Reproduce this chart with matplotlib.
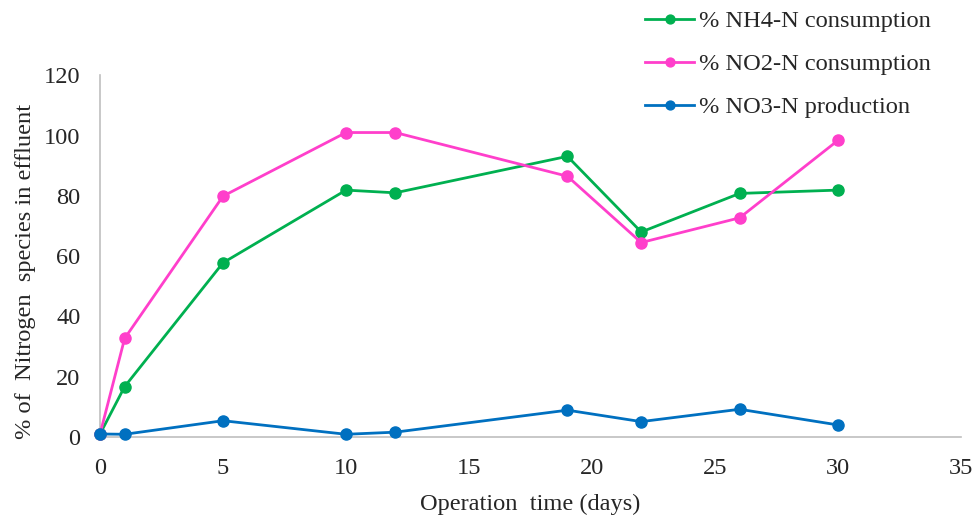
import matplotlib
matplotlib.use("Agg")
import matplotlib.pyplot as plt

# Operation days and nitrogen species percentages in the effluent
days = [0, 1, 5, 10, 12, 19, 22, 26, 30]
nh4_consumption = [1.0, 16.7, 57.8, 81.9, 81.0, 93.1, 68.0, 80.8, 81.9]
no2_consumption = [1.0, 32.7, 79.9, 101.0, 101.0, 86.5, 64.5, 72.7, 98.4]
no3_production = [1.0, 0.9, 5.4, 0.9, 1.6, 8.9, 5.1, 9.2, 4.0]

series_labels = ["% NH4-N consumption", "% NO2-N consumption", "% NO3-N production"]
series_colors = ["#00B050", "#FF3FCB", "#0070C0"]

x_ticks = [0, 5, 10, 15, 20, 25, 30, 35]
y_ticks = [0, 20, 40, 60, 80, 100, 120]

plt.rcParams["font.family"] = ["Liberation Serif", "DejaVu Serif"]
text_color = "#262626"
fs = 17.6

fig = plt.figure(figsize=(9.77, 5.19), dpi=100)
ax = fig.add_axes([0.1024, 0.158, 0.8812, 0.697])

for values, label, color in zip([nh4_consumption, no2_consumption, no3_production],
                                series_labels, series_colors):
    ax.plot(days, values, color=color, linewidth=2.0, marker="o",
            markersize=8, label=label, clip_on=False, zorder=3)

ax.set_xlim(0, 35)
ax.set_ylim(0, 120)
ax.set_xticks(x_ticks)
ax.set_yticks(y_ticks)
ax.tick_params(axis="both", length=0, labelsize=fs, colors=text_color)
ax.tick_params(axis="y", pad=14)
ax.tick_params(axis="x", pad=15)

for side in ["top", "right"]:
    ax.spines[side].set_visible(False)
for side in ["left", "bottom"]:
    ax.spines[side].set_color("#BFBFBF")
    ax.spines[side].set_linewidth(1.2)

ax.set_xlabel("Operation  time (days)", fontsize=fs, color=text_color)
ax.set_ylabel("% of  Nitrogen  species in effluent", fontsize=fs, color=text_color)
ax.xaxis.set_label_coords(0.5, -0.156)
ax.yaxis.set_label_coords(-0.074, 0.458)

fig.legend(loc="upper left", bbox_to_anchor=(0.660, 0.980), frameon=False,
           fontsize=fs, borderpad=0, borderaxespad=0, handlelength=2.03,
           handletextpad=0.2, labelspacing=0.85, markerscale=0.8,
           labelcolor=text_color)

fig.savefig("out.png", dpi=100)
